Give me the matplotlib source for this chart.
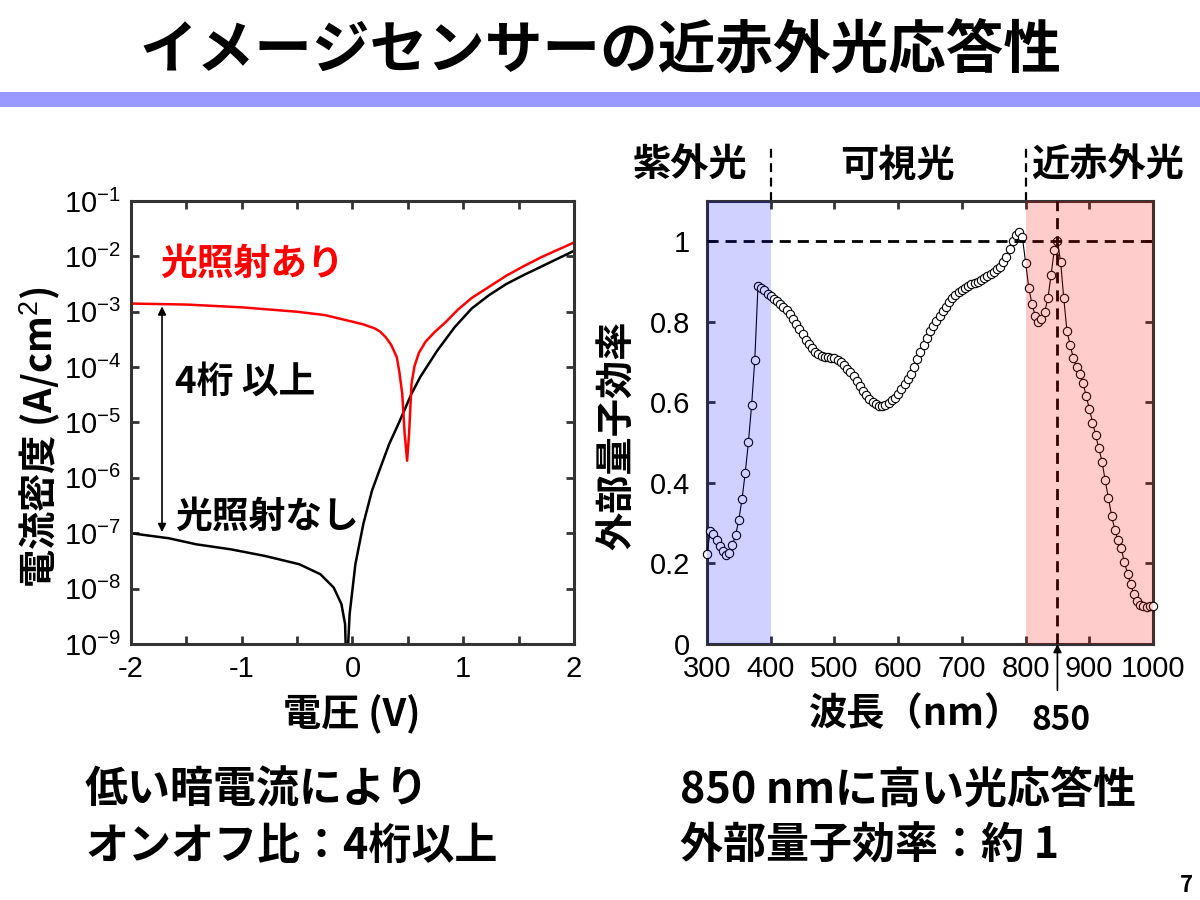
import numpy as np
import matplotlib
matplotlib.use('Agg')
import matplotlib.pyplot as plt
from matplotlib.patches import Rectangle
from matplotlib.ticker import MultipleLocator, NullLocator, FixedLocator

plt.rcParams['font.family'] = ['Liberation Sans', 'Noto Sans CJK JP']
plt.rcParams['axes.unicode_minus'] = False
plt.rcParams['mathtext.fontset'] = 'custom'
plt.rcParams['mathtext.rm'] = 'Liberation Sans'
plt.rcParams['mathtext.it'] = 'Liberation Sans:italic'
plt.rcParams['mathtext.bf'] = 'Liberation Sans:bold'

JP = ['Noto Sans CJK JP', 'DejaVu Sans']

# --- J-V data (log10 of current density, A/cm2) ---
v_dark = [-2.0, -1.66, -1.41, -1.10, -0.79, -0.48, -0.29, -0.17, -0.10, -0.067,
          -0.054, -0.026, 0.026, 0.098, 0.176, 0.253, 0.331, 0.409, 0.455, 0.533,
          0.611, 0.766, 0.922, 1.077, 1.233, 1.388, 1.543, 1.699, 1.854, 2.0]
logj_dark = [-7.00, -7.09, -7.20, -7.29, -7.41, -7.56, -7.74, -7.98, -8.28, -8.64,
             -9.6, -8.46, -7.56, -6.83, -6.23, -5.81, -5.39, -5.05, -4.84, -4.48,
             -4.18, -3.70, -3.28, -2.94, -2.70, -2.50, -2.34, -2.19, -2.04, -1.90]

v_light = [-2.0, -1.5, -1.0, -0.5, -0.25, 0.0, 0.1, 0.2, 0.25, 0.3, 0.35, 0.4,
           0.424, 0.449, 0.471, 0.493, 0.511, 0.533, 0.56, 0.60, 0.66, 0.74, 0.84,
           0.953, 1.077, 1.233, 1.388, 1.543, 1.699, 1.854, 2.0]
logj_light = [-2.852, -2.87, -2.92, -3.00, -3.06, -3.18, -3.23, -3.30, -3.36, -3.46,
              -3.60, -3.82, -4.10, -4.48, -5.20, -5.69, -5.20, -4.30, -3.98, -3.74,
              -3.54, -3.37, -3.19, -2.96, -2.75, -2.55, -2.35, -2.18, -2.02, -1.88,
              -1.75]

# --- external quantum efficiency spectrum ---
wl = [300, 305, 310, 315, 320, 325, 330, 335, 340, 345, 350, 355, 360, 365, 370, 375, 380,
      385, 390, 395, 400, 405, 410, 415, 420, 425, 430, 435, 440, 445, 450, 455, 460,
      465, 470, 475, 480, 485, 490, 495, 500, 505, 510, 515, 520, 525, 530, 535, 540,
      545, 550, 555, 560, 565, 570, 575, 580, 585, 590, 595, 600, 605, 610, 615, 620,
      625, 630, 635, 640, 645, 650, 655, 660, 665, 670, 675, 680, 685, 690, 695, 700,
      705, 710, 715, 720, 725, 730, 735, 740, 745, 750, 755, 760, 765, 770, 775, 780,
      785, 790, 795, 800, 805, 810, 815, 820, 825, 830, 835, 840, 845, 850, 855, 860,
      865, 870, 875, 880, 885, 890, 895, 900, 905, 910, 915, 920, 925, 930, 935, 940,
      945, 950, 955, 960, 965, 970, 975, 980, 985, 990, 995, 1000]
eqe = [0.224, 0.281, 0.272, 0.257, 0.243, 0.231, 0.221, 0.226, 0.246, 0.271, 0.309,
       0.360, 0.425, 0.501, 0.593, 0.705, 0.889,
       0.884, 0.878, 0.870, 0.863, 0.857, 0.851, 0.844, 0.837, 0.829, 0.819, 0.808,
       0.795, 0.782, 0.769, 0.756, 0.745, 0.735, 0.726, 0.720, 0.716, 0.713, 0.712,
       0.711, 0.710, 0.706, 0.700, 0.693, 0.684, 0.675, 0.665, 0.653, 0.641, 0.629,
       0.618, 0.608, 0.600, 0.595, 0.591, 0.590, 0.593, 0.598, 0.605, 0.612, 0.621,
       0.632, 0.645, 0.658, 0.671, 0.689, 0.708, 0.725, 0.742, 0.760, 0.777, 0.790,
       0.802, 0.815, 0.827, 0.838, 0.848, 0.858, 0.867, 0.874, 0.880, 0.885, 0.889,
       0.893, 0.896, 0.899, 0.903, 0.908, 0.914, 0.919, 0.924, 0.930, 0.937, 0.948,
       0.962, 0.980, 1.000, 1.016,
       1.023, 1.010, 0.947, 0.885, 0.845, 0.815, 0.800, 0.806, 0.825, 0.858, 0.916,
       0.978, 1.001, 0.949, 0.858, 0.776, 0.742, 0.709, 0.688, 0.671, 0.648, 0.617,
       0.584, 0.550, 0.519, 0.486, 0.453, 0.406, 0.362, 0.319, 0.284, 0.259, 0.238,
       0.204, 0.175, 0.148, 0.123, 0.108, 0.097, 0.094, 0.093, 0.094, 0.095]

W, H = 1200, 900


def fx(x):
    return x / W


def fy(y):
    return 1 - y / H


fig = plt.figure(figsize=(12, 9), dpi=100)
fig.patch.set_facecolor('white')

# title + bar
fig.text(0.5, fy(50), 'イメージセンサーの近赤外光応答性', ha='center', va='center',
         fontsize=41.5, fontweight='bold', family=JP)
fig.add_artist(Rectangle((0, fy(107)), 1, 15 / H, transform=fig.transFigure,
                         color='#9999ff', lw=0))

spine_c = '#333333'


def style(ax):
    for s in ax.spines.values():
        s.set_linewidth(2.2)
        s.set_color(spine_c)
    ax.tick_params(which='both', direction='in', top=True, right=True,
                   length=6, width=2, color=spine_c, labelsize=21, pad=8)


# ---- left: J-V ----
ax1 = fig.add_axes([fx(131), fy(644), 443 / W, 443 / H])
ax1.plot(v_dark, 10 ** np.array(logj_dark), color='black', lw=1.8)
ax1.plot(v_light, 10 ** np.array(logj_light), color='red', lw=1.8)
ax1.set_yscale('log')
ax1.set_xlim(-2, 2)
ax1.set_ylim(1e-9, 1e-1)
ax1.set_xticks([-2, -1, 0, 1, 2])
ax1.xaxis.set_minor_locator(MultipleLocator(0.5))
ax1.yaxis.set_major_locator(FixedLocator([10.0 ** k for k in range(-9, 0)]))
ax1.yaxis.set_minor_locator(NullLocator())
style(ax1)
ax1.tick_params(axis='y', pad=7)

ax1.annotate('', xy=(-1.72, 1.05e-7), xytext=(-1.72, 1.25e-3),
             arrowprops=dict(arrowstyle='<|-|>', color='black', lw=1.2,
                             mutation_scale=12, shrinkA=0, shrinkB=0))

fig.text(fx(160), fy(264), '光照射あり', color='red', fontsize=26.5, fontweight='bold',
         family=JP, va='center', ha='left')
fig.text(fx(175), fy(382), '4桁 以上', fontsize=26.5, fontweight='bold',
         family=JP, va='center', ha='left')
fig.text(fx(175), fy(517), '光照射なし', fontsize=26.5, fontweight='bold',
         family=JP, va='center', ha='left')

fig.text(fx(40), fy(437), '電流密度 (A/cm$^2$)', rotation=90, fontsize=27.5,
         fontweight='bold', family=JP, ha='center', va='center')
fig.text(fx(352), fy(714), '電圧 (V)', fontsize=27.5, fontweight='bold', family=JP,
         ha='center', va='center')

# ---- right: EQE ----
ax2 = fig.add_axes([fx(707), fy(644), 446 / W, 443 / H])
ax2.plot(wl, eqe, '-o', color='black', lw=0.8, ms=6, mfc='white', mec='black',
         mew=0.8, zorder=3, clip_on=False)
ax2.axvspan(300, 400, color=(0, 0, 1), alpha=0.18, lw=0, zorder=4)
ax2.axvspan(800, 1000, color=(1, 0, 0), alpha=0.2, lw=0, zorder=4)
ax2.axhline(1.0, color='black', lw=2, dashes=(4, 2.5), zorder=3)
ax2.axvline(850, color='black', lw=2, dashes=(4, 2.5), zorder=3)
ax2.set_xlim(300, 1000)
ax2.set_ylim(0, 1.1)
ax2.set_xticks([300, 400, 500, 600, 700, 800, 900, 1000])
ax2.set_yticks([0, 0.2, 0.4, 0.6, 0.8, 1.0])
ax2.set_yticklabels(['0', '0.2', '0.4', '0.6', '0.8', '1'])
style(ax2)
ax2.tick_params(axis='y', pad=12)

# region dividers above the plot
for xd in (400, 800):
    ax2.plot([xd, xd], [1.1, 1.235], color='black', lw=1.6, dashes=(4, 2.5),
             clip_on=False)
fig.text(fx(690), fy(165), '紫外光', fontsize=27.5, fontweight='bold', family=JP,
         ha='center', va='center')
fig.text(fx(897), fy(165), '可視光', fontsize=27.5, fontweight='bold', family=JP,
         ha='center', va='center')
fig.text(fx(1108), fy(165), '近赤外光', fontsize=27.5, fontweight='bold', family=JP,
         ha='center', va='center')

ax2.annotate('', xy=(850, 0), xytext=(850, -0.115),
             arrowprops=dict(arrowstyle='-|>', color='black', lw=1.2,
                             mutation_scale=12, shrinkA=0, shrinkB=0),
             annotation_clip=False)
fig.text(fx(1061), fy(720), '850', fontsize=24, fontweight='bold', family=JP,
         ha='center', va='center')

fig.text(0.5 * (fx(838) + fx(995)), fy(714), '波長（nm）', fontsize=27.5,
         fontweight='bold', family=JP, ha='center', va='center')
fig.text(fx(618), fy(435), '外部量子効率', rotation=90, fontsize=27.5,
         fontweight='bold', family=JP, ha='center', va='center')

# ---- bottom notes ----
fig.text(fx(85), fy(790), '低い暗電流により', fontsize=31, fontweight='bold',
         family=JP, ha='left', va='center')
fig.text(fx(85), fy(846), 'オンオフ比：4桁以上', fontsize=31, fontweight='bold',
         family=JP, ha='left', va='center')
fig.text(fx(680), fy(790), '850 nmに高い光応答性', fontsize=31, fontweight='bold',
         family=JP, ha='left', va='center')
fig.text(fx(680), fy(846), '外部量子効率：約 1', fontsize=31, fontweight='bold',
         family=JP, ha='left', va='center')
fig.text(fx(1186), fy(886), '7', fontsize=16, fontweight='bold', family=JP,
         ha='center', va='center')

fig.savefig('out.png', dpi=100)
